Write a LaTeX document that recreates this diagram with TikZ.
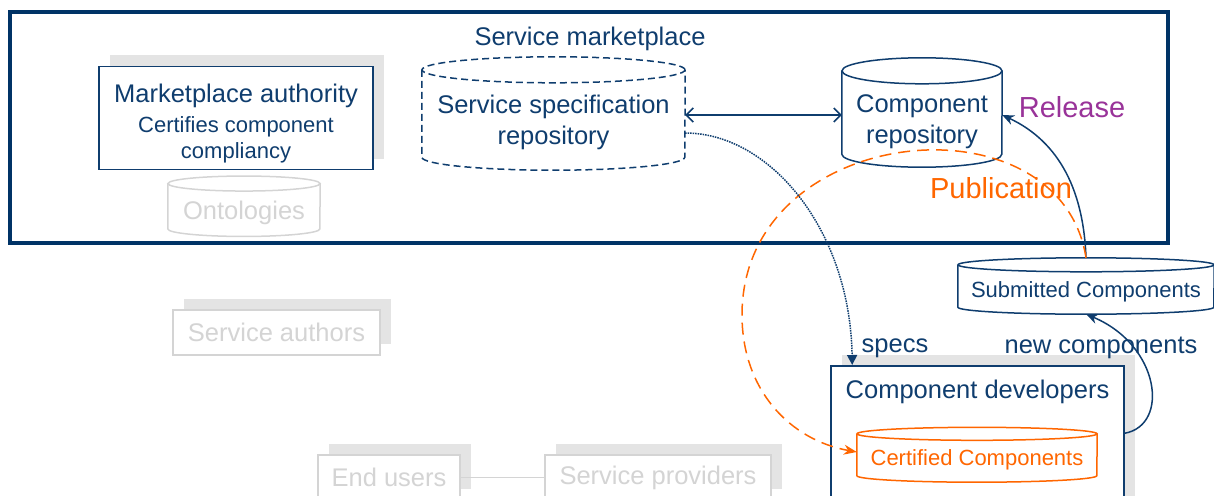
\documentclass[tikz,border=0pt]{standalone}
\usepackage{fontspec}
\setmainfont{Liberation Sans}
\usetikzlibrary{arrows.meta,positioning,calc,shadows}
\definecolor{navy}{RGB}{15,61,110}
\definecolor{frame}{RGB}{0,51,102}
\definecolor{pubor}{RGB}{255,102,0}
\definecolor{plum}{RGB}{153,51,153}
\definecolor{lgray}{RGB}{212,212,212}
\definecolor{shade}{RGB}{228,228,228}
\newcommand{\fsmain}{\fontsize{25.5}{31}\selectfont}
\newcommand{\fssmall}{\fontsize{22}{26}\selectfont}
\newcommand{\fstag}{\fontsize{29}{34}\selectfont}
\tikzstyle{box} = [rectangle, draw=navy, line width=1.5pt, fill=white, text=navy,
  align=center, inner sep=0pt,
  drop shadow={shadow xshift=11pt, shadow yshift=11pt, fill=shade, opacity=1}]
\tikzstyle{ghost} = [box, draw=lgray, text=lgray, font=\fsmain]
\tikzstyle{drum} = [rectangle, inner sep=0pt, align=center, text=navy, text depth=0pt]
\tikzstyle{line} = [draw, line width=1.5pt, color=navy]
% cylinder outline round a drum node: style, name, half width, ellipse radius
\newcommand{\drum}[4][]{%
  \draw[line width=1.5pt, #1] (#2.north west) -- ([yshift=#4pt]#2.south west)
    arc[start angle=180, end angle=360, x radius=#3pt, y radius=#4pt]
    -- (#2.north east);
  \draw[line width=1.5pt, #1] (#2.north) ellipse[x radius=#3pt, y radius=#4pt];
}

\begin{document}
\begin{tikzpicture}[x=1pt,y=1pt]

  \clip (0,0) rectangle (1214,-495);

  %%%%%%%%%%%%%%%%%%%%%%%%%%%%%%%%%%%%%%%%%%%%%%%%%%%%%%%%%%%%%%
  %                    SERVICE MARKETPLACE                     %
  %%%%%%%%%%%%%%%%%%%%%%%%%%%%%%%%%%%%%%%%%%%%%%%%%%%%%%%%%%%%%%

  \node [draw=frame, line width=4pt, inner sep=0pt,
    minimum width=1158pt, minimum height=231pt] (market) at (589,-127.5) {};
  \node [text=navy, font=\fsmain] (market-title) at (590,-39) {Service marketplace};

  \node [box, font=\fsmain, minimum width=274pt, minimum height=103pt]
    (authority) at (236,-118) {\rule{0pt}{29pt}Marketplace authority\\[-1pt]\fssmall Certifies component\\[-5pt]\fssmall compliancy};

  \node [drum, text=lgray, font=\fsmain, minimum width=152pt, minimum height=52.5pt]
    (ontologies) at (244,-210) {Ontologies};
  \drum[lgray]{ontologies}{76}{7.5}

  \node [drum, font=\fsmain, minimum width=263pt, minimum height=100pt]
    (spec) at (553.5,-120) {Service specification\\repository};
  \drum[navy, dash pattern=on 7pt off 4pt]{spec}{131.5}{13}

  \node [drum, font=\fsmain, minimum width=160pt, minimum height=96pt]
    (comp) at (922,-119) {Component\\repository};
  \drum[navy]{comp}{80}{13}

  \node [text=plum, font=\fstag] (release) at (1072,-107) {Release};
  \node [text=pubor, font=\fstag] (publication) at (1001,-188) {Publication};

  %%%%%%%%%%%%%%%%%%%%%%%%%%%%%%%%%%%%%%%%%%%%%%%%%%%%%%%%%%%%%%
  %                    OUTSIDE ACTORS                          %
  %%%%%%%%%%%%%%%%%%%%%%%%%%%%%%%%%%%%%%%%%%%%%%%%%%%%%%%%%%%%%%

  \node [drum, font=\fssmall, minimum width=256pt, minimum height=49pt]
    (sub) at (1086,-289.5) {Submitted Components};
  \drum[navy]{sub}{128}{7}

  \node [ghost, minimum width=207pt, minimum height=45pt] (authors) at (276.5,-332.5) {Service authors};
  \node [ghost, minimum width=142pt, minimum height=45pt] (users) at (389,-477.5) {End users};
  \node [ghost, minimum width=226pt, minimum height=45pt] (providers) at (658,-477.5) {Service providers};
  \draw [line width=1.5pt, lgray] (users) -- (providers);

  \node [box, font=\fsmain, minimum width=293pt, anchor=north,
    text height=33pt, text depth=112pt] (dev) at (977.5,-365) {Component developers};

  \node [drum, text=pubor, font=\fssmall, minimum width=240pt, minimum height=48pt]
    (cert) at (977,-458) {Certified Components};
  \drum[pubor]{cert}{120}{6.5}

  \node [text=navy, font=\fsmain] (specs) at (895,-348) {specs};
  \node [text=navy, font=\fsmain] (newcomp) at (1101,-348) {new components};

  %%%%%%%%%%%%%%%%%%%%%%%%%%%%%%%%%%%%%%%%%%%%%%%%%%%%%%%%%%%%%%
  %                    CONNECTORS                              %
  %%%%%%%%%%%%%%%%%%%%%%%%%%%%%%%%%%%%%%%%%%%%%%%%%%%%%%%%%%%%%%

  \draw [line, {Straight Barb[length=7pt,width=14pt]}-{Straight Barb[length=7pt,width=14pt]}]
    ([yshift=5pt]spec.east) -- ([yshift=5pt]spec.east -| comp.west);
  \draw [line, -{Stealth[length=12pt,width=10pt]}]
    ([yshift=7pt]sub.north) to[out=92,in=-25] ([yshift=4pt]comp.east);
  \draw [pubor, line width=1.5pt, dash pattern=on 12pt off 7pt, -{Stealth[length=13pt,width=10pt]}]
    ([yshift=7pt]sub.north) .. controls (1060,-92) and (742,-122) .. (742,-315)
    .. controls (742,-390) and (790,-440) .. ([yshift=6pt]cert.west);
  \draw [line, densely dotted, -{Triangle[length=10pt,width=10pt]}]
    ([yshift=-13pt]spec.east) .. controls (770,-133) and (850,-230) .. ([xshift=22pt]dev.north west);
  \draw [line, -{Stealth[length=12pt,width=10pt]}]
    ([yshift=5pt]dev.east) .. controls (1170,-425) and (1160,-345) .. (sub.south);

\end{tikzpicture}
\end{document}
